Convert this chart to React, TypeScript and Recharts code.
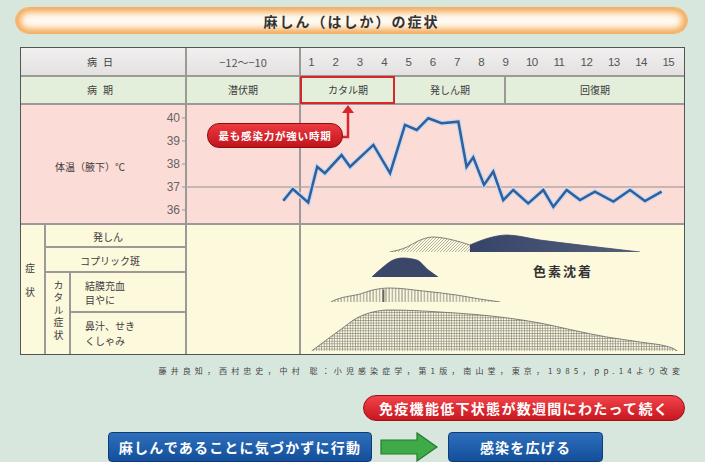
import React from "react";
import { ComposedChart, Line, Area, XAxis, YAxis, ReferenceLine } from "recharts";

const FONT = "'Noto Sans CJK JP', 'Noto Sans', sans-serif";

// day 1 starts at x=300 in the table, one day ≈ 25.67px
const DAY_PX = 25.67;
const X_MIN = -114 / DAY_PX; // left edge of the "-12~-10" column
const X_MAX = 15;
const PLOT_LEFT = 186;
const PLOT_W = 499;

const days = ["1", "2", "3", "4", "5", "6", "7", "8", "9", "10", "11", "12", "13", "14", "15"];
const periods = ["潜伏期", "カタル期", "発しん期", "回復期"];
const tempTicks = [36, 37, 38, 39, 40];

// body temperature (axillary), about two readings per day
const tempDays = [
  -0.65, -0.28, 0.32, 0.67, 0.97, 1.62, 1.95, 2.86, 3.51, 4.09, 4.55, 5.0, 5.52, 6.17,
  6.49, 6.75, 7.17, 7.53, 7.92, 8.31, 8.89, 9.48, 9.87, 10.39, 10.91, 11.49, 12.21,
  12.86, 13.44, 14.09,
];
const tempValues = [
  36.4, 36.91, 36.33, 37.88, 37.6, 38.39, 37.88, 38.83, 37.6, 39.7, 39.48, 39.99, 39.77,
  39.84, 37.88, 38.29, 37.09, 37.67, 36.43, 36.87, 36.29, 36.87, 36.14, 36.87, 36.43,
  36.8, 36.37, 36.87, 36.39, 36.8,
];

// symptom intensity curves (relative)
const rashEarlyDays = [3.5, 4.17, 4.6, 5.18, 5.96, 6.62];
const rashEarly = [0, 0.25, 0.55, 0.75, 0.6, 0.35];
const rashPigDays = [6.62, 7.0, 7.5, 8.06, 9.35, 10.6, 11.9, 13.25];
const rashPig = [0.35, 0.55, 0.75, 0.85, 0.6, 0.4, 0.2, 0];
const koplikDays = [2.8, 3.24, 3.63, 4.0, 4.55, 5.0, 5.38];
const koplik = [0, 0.5, 0.85, 0.95, 0.85, 0.35, 0];
const conjDays = [1.2, 1.4, 2.34, 2.84, 3.5, 4.8, 6.1, 7.0, 7.8];
const conj = [0, 0.12, 0.4, 0.6, 0.7, 0.55, 0.35, 0.15, 0];
const conjPeakDay = 3.25;
const coughDays = [0.45, 1.56, 2.22, 2.84, 3.5, 5.45, 8.1, 9.35, 10.6, 11.95, 13.25, 14.5, 14.7];
const cough = [0, 1.05, 1.65, 1.95, 2.05, 1.95, 1.65, 1.4, 1.05, 0.7, 0.45, 0.15, 0];

const zip = (xs: number[], ys: number[]) => xs.map((t, i) => ({ t, v: ys[i] }));

const GRID = "#9c9a98";
const TEXT = "#3c3c3c";

function HLine({ x1, x2, y, c = GRID, w = 1.5 }: any) {
  return <div style={{ position: "absolute", left: x1, top: y - w / 2, width: x2 - x1, height: w, background: c }} />;
}
function VLine({ x, y1, y2, c = GRID, w = 1.5 }: any) {
  return <div style={{ position: "absolute", left: x - w / 2, top: y1, width: w, height: y2 - y1, background: c }} />;
}
function Txt({ x, y, size = 10, anchor = "center", style, children }: any) {
  const tx = anchor === "center" ? "-50%" : anchor === "end" ? "-100%" : "0";
  return (
    <div
      style={{
        position: "absolute", left: x, top: y, transform: `translate(${tx}, -50%)`,
        fontSize: size, color: TEXT, whiteSpace: "nowrap", lineHeight: 1, ...style,
      }}
    >
      {children}
    </div>
  );
}

function SymptomChart({ top, height, max, children }: any) {
  return (
    <div style={{ position: "absolute", left: PLOT_LEFT, top }}>
      <ComposedChart width={PLOT_W} height={height} margin={{ top: 0, right: 0, bottom: 0, left: 0 }}>
        <defs>
          <pattern id="pDiag" patternUnits="userSpaceOnUse" width="3" height="3">
            <path d="M0,3 L3,0" stroke="#555" strokeWidth="0.7" />
          </pattern>
          <pattern id="pVert" patternUnits="userSpaceOnUse" width="3.2" height="4">
            <path d="M1.6,0 V4" stroke="#666" strokeWidth="0.8" />
          </pattern>
          <pattern id="pGrid" patternUnits="userSpaceOnUse" width="2.6" height="2.6">
            <path d="M0,0.3 H2.6 M0.3,0 V2.6" stroke="#6a6a6a" strokeWidth="0.6" />
          </pattern>
          <linearGradient id="gDark" x1="0" y1="0" x2="1" y2="0">
            <stop offset="0%" stopColor="#36446a" />
            <stop offset="100%" stopColor="#56607a" />
          </linearGradient>
        </defs>
        <XAxis type="number" dataKey="t" domain={[X_MIN, X_MAX]} hide allowDataOverflow />
        <YAxis type="number" domain={[0, max]} hide allowDataOverflow />
        {children}
      </ComposedChart>
    </div>
  );
}

export default function App() {
  const tempData = tempDays.map((t, i) => ({ t, temp: tempValues[i] }));
  const dayColStart = 300;

  return (
    <div
      style={{
        position: "absolute", left: 0, top: 0, width: 705, height: 462, overflow: "hidden",
        background: "#d8e7de", fontFamily: FONT,
      }}
    >
      {/* title */}
      <div
        style={{
          position: "absolute", left: 15, top: 7, width: 673, height: 27, borderRadius: 14,
          background: "#fffaf2", boxShadow: "inset 0 0 7px 4px #f3a54e", border: "1px solid #f2b06a",
          boxSizing: "border-box", display: "flex", alignItems: "center", justifyContent: "center",
          fontSize: 14, fontWeight: 700, color: "#333", letterSpacing: 2,
        }}
      >
        麻しん（はしか）の症状
      </div>

      {/* table backgrounds */}
      <div style={{ position: "absolute", left: 20, top: 47, width: 665, height: 29, background: "linear-gradient(#f2f0f0, #e3e0e0)" }} />
      <div style={{ position: "absolute", left: 20, top: 76, width: 665, height: 28, background: "#e3eedb" }} />
      <div style={{ position: "absolute", left: 20, top: 104, width: 665, height: 120, background: "#fcdcd7" }} />
      <div style={{ position: "absolute", left: 20, top: 224, width: 665, height: 131, background: "#fdf9dd" }} />

      {/* grid lines */}
      <HLine x1={20} x2={685} y={76} />
      <HLine x1={20} x2={685} y={104} />
      <HLine x1={20} x2={685} y={224} />
      <VLine x={186} y1={47} y2={355} />
      <VLine x={dayColStart} y1={47} y2={355} />
      <VLine x={505} y1={76} y2={104} />
      <VLine x={45} y1={224} y2={355} />
      <VLine x={70} y1={272} y2={355} />
      <HLine x1={45} x2={186} y={247} />
      <HLine x1={45} x2={186} y={272} />
      <HLine x1={70} x2={186} y={312} />

      {/* header row */}
      <Txt x={103} y={62} size={10} style={{ letterSpacing: 6 }}>病日</Txt>
      <Txt x={243} y={62} size={11} style={{ color: "#555" }}>−12〜−10</Txt>
      <div
        style={{
          position: "absolute", left: 307.5, top: 55, width: 366, display: "flex",
          justifyContent: "space-between", fontSize: 11.5, color: "#555", lineHeight: "14px",
          fontFamily: "'Liberation Sans', Arial, sans-serif",
        }}
      >
        {days.map((d) => (
          <span
            key={d}
            style={{ width: d.length > 1 ? 11 : 8, textAlign: "center", letterSpacing: d.length > 1 ? -0.6 : 0 }}
          >
            {d}
          </span>
        ))}
      </div>

      {/* period row */}
      <Txt x={103} y={90} size={10} style={{ letterSpacing: 6 }}>病期</Txt>
      <Txt x={243} y={90} size={10}>{periods[0]}</Txt>
      <Txt x={348} y={90} size={10}>{periods[1]}</Txt>
      <Txt x={450} y={90} size={10}>{periods[2]}</Txt>
      <Txt x={595} y={90} size={10}>{periods[3]}</Txt>
      <div
        style={{
          position: "absolute", left: 300, top: 76, width: 95, height: 28, boxSizing: "border-box",
          border: "2px solid #d8262c",
        }}
      />

      {/* temperature */}
      <Txt x={90} y={167} size={10}>体温（腋下）℃</Txt>
      <div style={{ position: "absolute", left: PLOT_LEFT - 36, top: 104 }}>
        <ComposedChart width={PLOT_W + 36} height={120} margin={{ top: 14, right: 0, bottom: 14, left: 0 }}>
          <XAxis type="number" dataKey="t" domain={[X_MIN, X_MAX]} hide allowDataOverflow />
          <YAxis
            type="number"
            domain={[36, 40]}
            ticks={tempTicks}
            width={36}
            axisLine={false}
            tickSize={4}
            tickMargin={2}
            tickLine={{ stroke: "#999" }}
            tick={{ fontSize: 12, fill: "#666", fontFamily: "'Liberation Sans', Arial, sans-serif" }}
          />
          <ReferenceLine y={37} stroke="#b5a8a4" strokeWidth={1.5} />
          <Line
            data={tempData}
            dataKey="temp"
            type="linear"
            stroke="#c9d9ee"
            strokeWidth={5}
            dot={false}
            isAnimationActive={false}
          />
          <Line
            data={tempData}
            dataKey="temp"
            type="linear"
            stroke="#2f5f9c"
            strokeWidth={2.5}
            dot={false}
            isAnimationActive={false}
          />
        </ComposedChart>
      </div>

      {/* arrow to カタル期 */}
      <svg style={{ position: "absolute", left: 0, top: 0 }} width={705} height={462}>
        <polyline points="338,137 348,137 348,111" fill="none" stroke="#d8262c" strokeWidth={2.5} />
        <polygon points="342,113 354,113 348,105" fill="#d8262c" />
      </svg>
      <div
        style={{
          position: "absolute", left: 207, top: 123, width: 136, height: 25, borderRadius: 12,
          background: "linear-gradient(#ec3a40, #c0141c)", border: "1px solid #8e0e12", boxSizing: "border-box",
          display: "flex", alignItems: "center", justifyContent: "center", color: "#fff", fontSize: 10.5,
          fontWeight: 700, letterSpacing: 0.8,
        }}
      >
        最も感染力が強い時期
      </div>

      {/* symptom labels */}
      <Txt x={30} y={268} size={10}>症</Txt>
      <Txt x={30} y={292} size={10}>状</Txt>
      <div
        style={{
          position: "absolute", left: 52, top: 280, width: 12, height: 66, writingMode: "vertical-rl",
          fontSize: 10, color: TEXT, letterSpacing: 2.5, lineHeight: "12px", whiteSpace: "nowrap",
        }}
      >
        カタル症状
      </div>
      <Txt x={108} y={237} size={10}>発しん</Txt>
      <Txt x={110} y={261} size={10}>コプリック斑</Txt>
      <Txt x={85} y={286} size={10} anchor="start">結膜充血</Txt>
      <Txt x={85} y={300} size={10} anchor="start">目やに</Txt>
      <Txt x={85} y={326} size={10} anchor="start">鼻汁、せき</Txt>
      <Txt x={85} y={341} size={10} anchor="start">くしゃみ</Txt>

      {/* symptom curves */}
      <SymptomChart top={230} height={22} max={1.1}>
        <Area data={zip(rashEarlyDays, rashEarly)} dataKey="v" type="monotone" fill="url(#pDiag)" stroke="#666" strokeWidth={0.8} isAnimationActive={false} />
        <Area data={zip(rashPigDays, rashPig)} dataKey="v" type="monotone" fill="url(#gDark)" fillOpacity={1} stroke="#3e4a68" strokeWidth={0.8} isAnimationActive={false} />
      </SymptomChart>
      <SymptomChart top={255} height={22} max={1.1}>
        <Area data={zip(koplikDays, koplik)} dataKey="v" type="monotone" fill="#3a4769" fillOpacity={1} stroke="#3a4769" strokeWidth={0.8} isAnimationActive={false} />
      </SymptomChart>
      <SymptomChart top={280} height={22} max={1.1}>
        <Area data={zip(conjDays, conj)} dataKey="v" type="monotone" fill="url(#pVert)" fillOpacity={1} stroke="#666" strokeWidth={0.8} isAnimationActive={false} />
        <ReferenceLine segment={[{ x: conjPeakDay, y: 0 }, { x: conjPeakDay, y: 0.62 }]} stroke="#666" strokeWidth={2} />
      </SymptomChart>
      <SymptomChart top={307} height={44} max={2.2}>
        <Area data={zip(coughDays, cough)} dataKey="v" type="monotone" fill="url(#pGrid)" fillOpacity={1} stroke="#666" strokeWidth={0.8} isAnimationActive={false} />
      </SymptomChart>
      <Txt x={533} y={270} size={13} anchor="start" style={{ fontWeight: 700, color: "#333", letterSpacing: 2 }}>
        色素沈着
      </Txt>

      {/* table frame */}
      <div
        style={{
          position: "absolute", left: 20, top: 47, width: 665, height: 308, boxSizing: "border-box",
          border: "1.5px solid #555",
        }}
      />

      {/* source */}
      <Txt x={684} y={371} size={8} anchor="end" style={{ color: "#444", letterSpacing: 4.1 }}>
        藤井良知，西村忠史，中村 聡：小児感染症学，第1版，南山堂，東京，1985，pp.14より改変
      </Txt>

      {/* bottom callouts */}
      <div
        style={{
          position: "absolute", left: 363, top: 395, width: 322, height: 26, borderRadius: 13,
          background: "linear-gradient(#f2444a, #c8161e)", border: "1.5px solid #9c0f16", boxSizing: "border-box",
          display: "flex", alignItems: "center", justifyContent: "center", color: "#fff", fontSize: 14,
          fontWeight: 700, letterSpacing: 1.3,
        }}
      >
        免疫機能低下状態が数週間にわたって続く
      </div>
      <div
        style={{
          position: "absolute", left: 108, top: 432, width: 264, height: 30, borderRadius: 4,
          background: "linear-gradient(#2e6fbb, #134f9b)", border: "1.5px solid #0d3c78", boxSizing: "border-box",
          display: "flex", alignItems: "center", justifyContent: "center", color: "#fff", fontSize: 14,
          fontWeight: 700, letterSpacing: 1.2,
        }}
      >
        麻しんであることに気づかずに行動
      </div>
      <svg style={{ position: "absolute", left: 0, top: 0 }} width={705} height={462}>
        <polygon
          points="381,440 417,440 417,433 437,447 417,461 417,454 381,454"
          fill="#3eaa48"
          stroke="#257a2e"
          strokeWidth={1.2}
        />
      </svg>
      <div
        style={{
          position: "absolute", left: 448, top: 432, width: 155, height: 30, borderRadius: 4,
          background: "linear-gradient(#2e6fbb, #134f9b)", border: "1.5px solid #0d3c78", boxSizing: "border-box",
          display: "flex", alignItems: "center", justifyContent: "center", color: "#fff", fontSize: 14,
          fontWeight: 700, letterSpacing: 1.2,
        }}
      >
        感染を広げる
      </div>
    </div>
  );
}
